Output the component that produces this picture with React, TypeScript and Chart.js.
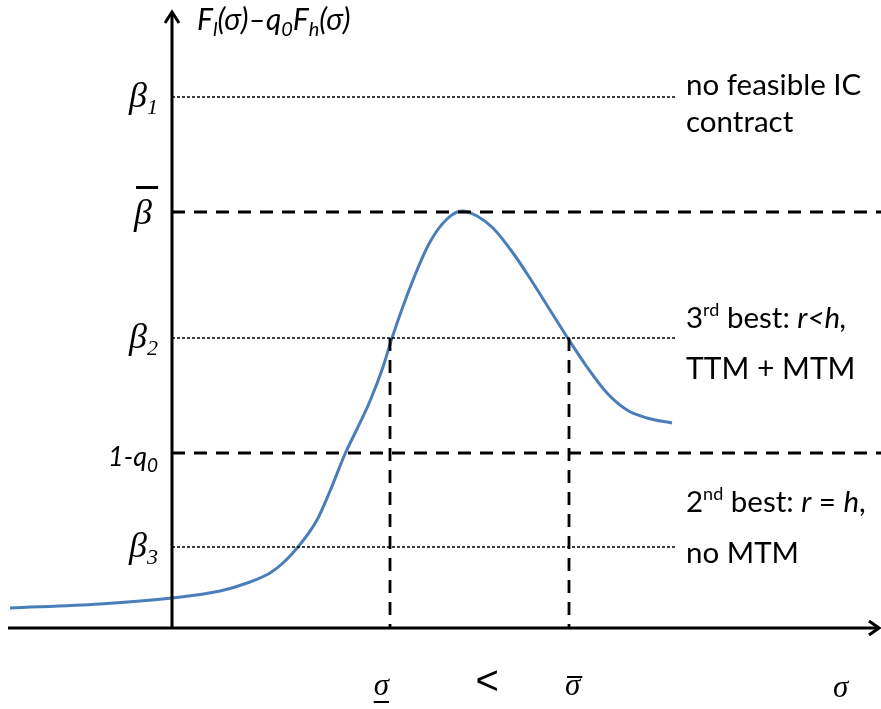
import React, { useEffect, useRef } from "react";
import { Chart, registerables } from "chart.js";

Chart.register(...registerables);

// Logical coordinates: x = σ (0 at the vertical axis), y = F_l(σ) − q0·F_h(σ)
const X_MIN = -1.72;
const X_MAX = 7.09;
const Y_MIN = -0.81;
const Y_MAX = 6.28;

const curveX = [-1.62, -0.72, 0, 0.48, 0.78, 0.98, 1.11, 1.26, 1.45, 1.58, 1.73, 1.85, 1.98, 2.11, 2.2, 2.41, 2.58, 2.75, 2.9, 3.05, 3.21, 3.41, 3.61, 3.78, 3.95, 4.15, 4.35, 4.55, 4.75, 5.0];
const curveY = [0.2, 0.24, 0.3, 0.37, 0.46, 0.55, 0.65, 0.81, 1.08, 1.37, 1.74, 1.99, 2.27, 2.61, 2.9, 3.48, 3.86, 4.09, 4.17, 4.12, 4.0, 3.75, 3.45, 3.18, 2.91, 2.61, 2.35, 2.18, 2.1, 2.05];

const beta1 = 5.31;
const betaBar = 4.16;
const beta2 = 2.9;
const oneMinusQ0 = 1.75;
const beta3 = 0.81;
const sigmaLow = 2.18;
const sigmaHigh = 3.97;
const thinLineEnd = 5.04;
const labelX = 5.14;

const CURVE_COLOR = "#4A7EBB";
const SANS = "Lato, 'Open Sans', sans-serif";
const SERIF = "'Liberation Serif', 'DejaVu Serif', serif";

type Run = { t: string; font: string; dy?: number };

function drawRuns(ctx: CanvasRenderingContext2D, runs: Run[], x: number, y: number) {
  let cx = x;
  for (const r of runs) {
    ctx.font = r.font;
    ctx.fillText(r.t, cx, y + (r.dy || 0));
    cx += ctx.measureText(r.t).width;
  }
  return cx;
}

const overlay = {
  id: "overlay",
  afterDatasetsDraw(chart: any) {
    const ctx: CanvasRenderingContext2D = chart.ctx;
    const xs = chart.scales.x;
    const ys = chart.scales.y;
    const px = (v: number) => xs.getPixelForValue(v);
    const py = (v: number) => ys.getPixelForValue(v);
    ctx.save();
    ctx.fillStyle = "#000";
    ctx.strokeStyle = "#000";
    ctx.textBaseline = "alphabetic";
    ctx.setLineDash([]);

    // axes
    const ox = px(0);
    const oy = py(0);
    ctx.lineWidth = 3;
    ctx.beginPath();
    ctx.moveTo(ox, py(Y_MAX) + 13);
    ctx.lineTo(ox, oy);
    ctx.moveTo(px(X_MIN) + 8, oy);
    ctx.lineTo(px(X_MAX) - 2, oy);
    ctx.stroke();
    // arrow heads
    ctx.lineWidth = 3;
    ctx.lineJoin = "miter";
    ctx.beginPath();
    const ty = py(Y_MAX) + 12;
    ctx.moveTo(ox - 7, ty + 11);
    ctx.lineTo(ox, ty);
    ctx.lineTo(ox + 7, ty + 11);
    const tx = px(X_MAX) - 2;
    ctx.moveTo(tx - 10, oy - 7);
    ctx.lineTo(tx, oy);
    ctx.lineTo(tx - 10, oy + 7);
    ctx.stroke();

    // y-axis title
    const it = (s: number) => `italic ${s}px ${SANS}`;
    drawRuns(
      ctx,
      [
        { t: "F", font: it(30) },
        { t: "l", font: it(20), dy: 6 },
        { t: "(σ)–q", font: it(30) },
        { t: "0", font: it(20), dy: 6 },
        { t: "F", font: it(30) },
        { t: "h", font: it(20), dy: 6 },
        { t: "(σ)", font: it(30) },
      ],
      ox + 25,
      py(Y_MAX) + 30
    );

    // left-side labels
    const bf = `italic 36px ${SERIF}`;
    const sub = `italic 22px ${SERIF}`;
    const lbl = (runs: Run[], yv: number, dy: number) => {
      let w = 0;
      for (const r of runs) {
        ctx.font = r.font;
        w += ctx.measureText(r.t).width;
      }
      drawRuns(ctx, runs, ox - 14 - w, py(yv) + dy);
    };
    lbl([{ t: "β", font: bf }, { t: "1", font: sub, dy: 7 }], beta1, 10);
    lbl([{ t: "β", font: bf }, { t: "2", font: sub, dy: 7 }], beta2, 10);
    lbl([{ t: "β", font: bf }, { t: "3", font: sub, dy: 7 }], beta3, 10);
    // beta bar
    ctx.font = bf;
    const bw = ctx.measureText("β").width;
    const bx = ox - 20 - bw;
    ctx.fillText("β", bx, py(betaBar) + 12);
    ctx.fillRect(bx + 2, py(betaBar) - 26, 22, 3);
    // 1-q0
    lbl([{ t: "1-q", font: it(27) }, { t: "0", font: it(19), dy: 6 }], oneMinusQ0, 13);

    // right-side labels
    const rf = `29.5px ${SANS}`;
    const ri = `italic 29.5px ${SANS}`;
    const sup = `18px ${SANS}`;
    const lx = px(labelX);
    drawRuns(ctx, [{ t: "no feasible IC", font: rf }], lx, 95);
    drawRuns(ctx, [{ t: "contract", font: rf }], lx, 132);
    drawRuns(
      ctx,
      [
        { t: "3", font: rf },
        { t: "rd", font: sup, dy: -12 },
        { t: " best: ", font: rf },
        { t: "r<h,", font: ri },
      ],
      lx,
      328
    );
    drawRuns(ctx, [{ t: "TTM + MTM", font: `30px ${SANS}` }], lx, 379);
    drawRuns(
      ctx,
      [
        { t: "2", font: rf },
        { t: "nd", font: sup, dy: -12 },
        { t: " best: ", font: rf },
        { t: "r", font: ri },
        { t: " = ", font: rf },
        { t: "h", font: ri },
        { t: ",", font: rf },
      ],
      lx,
      512
    );
    drawRuns(ctx, [{ t: "no MTM", font: rf }], lx, 563);

    // x-axis labels
    const sf = `italic 31px ${SERIF}`;
    ctx.font = sf;
    const sw = ctx.measureText("σ").width;
    const lyb = oy + 67;
    const sl = px(sigmaLow) - sw - 1;
    ctx.fillText("σ", sl, lyb);
    ctx.fillRect(sl, lyb + 6, sw, 2);
    const sh = px(sigmaHigh) - 4;
    ctx.fillText("σ", sh, lyb);
    ctx.fillRect(sh + 2, lyb - 19, sw, 2);
    ctx.font = `40px 'Liberation Sans', 'DejaVu Sans', sans-serif`;
    ctx.fillText("<", px((sigmaLow + sigmaHigh) / 2) - 4, lyb - 1);
    ctx.font = sf;
    ctx.fillText("σ", px(X_MAX) - 48, lyb + 2);
    ctx.restore();
  },
};

export default function App() {
  const ref = useRef<HTMLCanvasElement>(null);
  useEffect(() => {
    if (!ref.current) return;
    const thin = { borderColor: "#000", borderWidth: 1.3, borderDash: [3, 2], pointRadius: 0, fill: false, tension: 0 };
    const thick = { borderColor: "#000", borderWidth: 2.8, borderDash: [13, 9], pointRadius: 0, fill: false, tension: 0 };
    const chart = new Chart(ref.current, {
      type: "line",
      data: {
        datasets: [
          { ...thin, data: [{ x: 0, y: beta1 }, { x: thinLineEnd, y: beta1 }] },
          { ...thick, data: [{ x: 0, y: betaBar }, { x: X_MAX, y: betaBar }] },
          { ...thin, data: [{ x: 0, y: beta2 }, { x: thinLineEnd, y: beta2 }] },
          { ...thick, data: [{ x: 0, y: oneMinusQ0 }, { x: X_MAX, y: oneMinusQ0 }] },
          { ...thin, data: [{ x: 0, y: beta3 }, { x: thinLineEnd, y: beta3 }] },
          { ...thick, data: [{ x: sigmaLow, y: beta2 }, { x: sigmaLow, y: 0 }] },
          { ...thick, data: [{ x: sigmaHigh, y: beta2 }, { x: sigmaHigh, y: 0 }] },
          {
            data: curveX.map((x, i) => ({ x, y: curveY[i] })),
            borderColor: CURVE_COLOR,
            borderWidth: 3,
            pointRadius: 0,
            fill: false,
            cubicInterpolationMode: "monotone",
          },
        ],
      },
      options: {
        animation: false,
        responsive: false,
        devicePixelRatio: 1,
        layout: { padding: 0 },
        plugins: { legend: { display: false }, tooltip: { enabled: false }, title: { display: false } },
        events: [],
        scales: {
          x: { type: "linear", min: X_MIN, max: X_MAX, display: false },
          y: { type: "linear", min: Y_MIN, max: Y_MAX, display: false },
        },
      },
      plugins: [overlay],
    } as any);
    return () => chart.destroy();
  }, []);
  return (
    <div style={{ position: "absolute", left: 0, top: 0, width: 881, height: 709, background: "#fff" }}>
      <canvas ref={ref} width={881} height={709} />
    </div>
  );
}
